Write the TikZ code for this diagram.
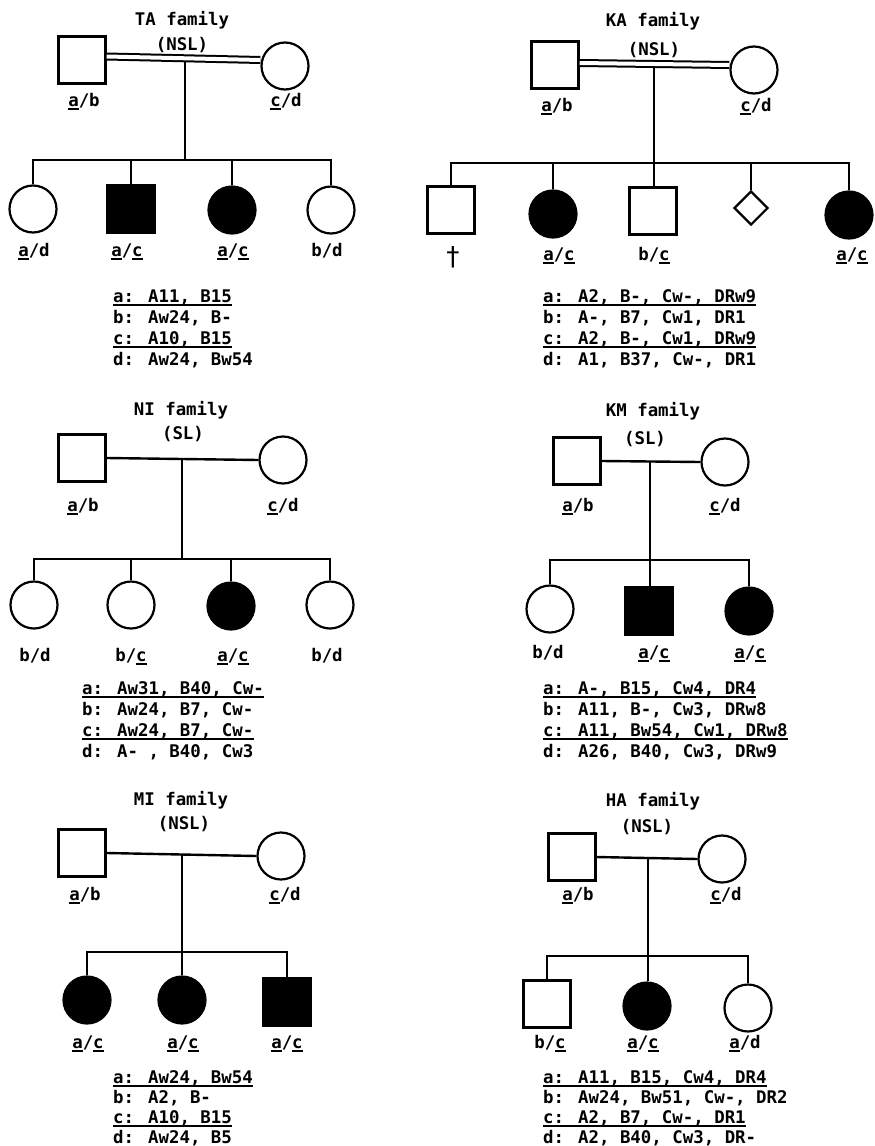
\documentclass[tikz,border=0pt]{standalone}
\usepackage{fontspec}
\newfontfamily\typew{DejaVu Sans Mono Bold}
\newfontfamily\typewlight{DejaVu Sans Mono}
\usetikzlibrary{shapes.geometric}
% underlined haplotype letter (shared haplotype)
\newcommand\hapul[1]{\setbox0=\hbox{#1}\rlap{\vrule width\wd0 height -2pt depth 3.6pt}\box0}
\newcommand\ua{\hapul{a}}
\newcommand\uc{\hapul{c}}

\begin{document}
\begin{tikzpicture}[x=1pt,y=-1pt,
  txt/.style={font=\typew\fontsize{17.4}{21}\selectfont, inner sep=0pt, anchor=base},
  row/.style={txt, anchor=base west},
  male/.style={draw, line width=2.4pt, rectangle, minimum size=47pt, inner sep=0pt},
  female/.style={draw, line width=2.2pt, circle, minimum size=47pt, inner sep=0pt},
  unknown/.style={draw, line width=2.2pt, diamond, minimum width=34pt, minimum height=34pt, aspect=1, inner sep=0pt},
  affected/.style={fill=black},
  rel/.style={line width=2.4pt},
  sib/.style={line width=2.8pt},
  consang/.style={line width=2pt, double, double distance=4pt},
  hapline/.style={line width=1.8pt}
]
\fill[white] (0,0) rectangle (875,1146);
\useasboundingbox (0,0) rectangle (875,1146);

%% ---------------- TA family ----------------
\node[txt] (ta-t) at (182,25) {TA family};
\node[txt] (ta-n) at (182,50) {(NSL)};
\node[male] (ta-f) at (82,60) {};
\node[female] (ta-m) at (285,66) {};
\node[txt] (ta-fl) at (84,106) {\ua/b};
\node[txt] (ta-ml) at (286,106) {\uc/d};
\draw[consang] ([yshift=3.5pt]ta-f.east) -- ([yshift=6pt]ta-m.west);
\coordinate (ta-j) at (185,62);
\coordinate (ta-s) at (185,160);
\draw[rel] (ta-j) -- (ta-s);
\node[female] (ta-c1) at (33,209) {};
\node[male, affected] (ta-c2) at (131,209) {};
\node[female, affected] (ta-c3) at (232,210) {};
\node[female] (ta-c4) at (331,210) {};
\draw[sib] (ta-c1.north) -- (ta-c1.north |- ta-s) -- (ta-c4.north |- ta-s) -- (ta-c4.north);
\draw[sib] (ta-c2.north) -- (ta-c2.north |- ta-s);
\draw[sib] (ta-c3.north) -- (ta-c3.north |- ta-s);
\node[txt] (ta-c1l) at (34,256) {\ua/d};
\node[txt] (ta-c2l) at (127,256) {\ua/\uc};
\node[txt] (ta-c3l) at (233,256) {\ua/\uc};
\node[txt] (ta-c4l) at (327,256) {b/d};
\node[row] (ta-ha) at (113,302) {a: A11, B15};
\node[row] (ta-hb) at (113,323) {b: Aw24, B-};
\node[row] (ta-hc) at (113,344) {c: A10, B15};
\node[row] (ta-hd) at (113,365) {d: Aw24, Bw54};
\draw[hapline] ([yshift=-2.8pt]ta-ha.base west) -- ([yshift=-2.8pt]ta-ha.base east);
\draw[hapline] ([yshift=-2.8pt]ta-hc.base west) -- ([yshift=-2.8pt]ta-hc.base east);

%% ---------------- KA family ----------------
\node[txt] (ka-t) at (653,26) {KA family};
\node[txt] (ka-n) at (654,55) {(NSL)};
\node[male] (ka-f) at (555,65) {};
\node[female] (ka-m) at (754,70) {};
\node[txt] (ka-fl) at (557,111) {\ua/b};
\node[txt] (ka-ml) at (756,111) {\uc/d};
\draw[consang] ([yshift=2pt]ka-f.east) -- ([yshift=5pt]ka-m.west);
\coordinate (ka-j) at (654,68);
\coordinate (ka-s) at (654,163);
\node[male] (ka-c1) at (451,210) {};
\node[female, affected] (ka-c2) at (553,214) {};
\node[male] (ka-c3) at (653,211) {};
\node[unknown] (ka-c4) at (751,208) {};
\node[female, affected] (ka-c5) at (849,215) {};
\draw[rel] (ka-j) -- (ka-j |- ka-c3.north);
\draw[sib] (ka-c1.north) -- (ka-c1.north |- ka-s) -- (ka-c5.north |- ka-s) -- (ka-c5.north);
\draw[sib] (ka-c2.north) -- (ka-c2.north |- ka-s);
\draw[sib] (ka-c4.north) -- (ka-c4.north |- ka-s);
\node[txt, anchor=center, font=\typewlight\fontsize{26}{26}\selectfont] (ka-c1l) at (453,257) {†};
\node[txt] (ka-c2l) at (559,260) {\ua/\uc};
\node[txt] (ka-c3l) at (654,260) {b/\uc};
\node[txt] (ka-c5l) at (852,260) {\ua/\uc};
\node[row] (ka-ha) at (543,302) {a: A2, B-, Cw-, DRw9};
\node[row] (ka-hb) at (543,323) {b: A-, B7, Cw1, DR1};
\node[row] (ka-hc) at (543,344) {c: A2, B-, Cw1, DRw9};
\node[row] (ka-hd) at (543,365) {d: A1, B37, Cw-, DR1};
\draw[hapline] ([yshift=-2.8pt]ka-ha.base west) -- ([yshift=-2.8pt]ka-ha.base east);
\draw[hapline] ([yshift=-2.8pt]ka-hc.base west) -- ([yshift=-2.8pt]ka-hc.base east);

%% ---------------- NI family ----------------
\node[txt] (ni-t) at (181,415) {NI family};
\node[txt] (ni-n) at (183,439) {(SL)};
\node[male] (ni-f) at (82,458) {};
\node[female] (ni-m) at (283,460) {};
\node[txt] (ni-fl) at (83,511) {\ua/b};
\node[txt] (ni-ml) at (283,511) {\uc/d};
\draw[rel] (ni-f.east) -- (ni-m.west);
\coordinate (ni-j) at (182,459);
\coordinate (ni-s) at (182,559);
\draw[rel] (ni-j) -- (ni-s);
\node[female] (ni-c1) at (34,605) {};
\node[female] (ni-c2) at (131,605) {};
\node[female, affected] (ni-c3) at (231,606) {};
\node[female] (ni-c4) at (330,605) {};
\draw[sib] (ni-c1.north) -- (ni-c1.north |- ni-s) -- (ni-c4.north |- ni-s) -- (ni-c4.north);
\draw[sib] (ni-c2.north) -- (ni-c2.north |- ni-s);
\draw[sib] (ni-c3.north) -- (ni-c3.north |- ni-s);
\node[txt] (ni-c1l) at (35,661) {b/d};
\node[txt] (ni-c2l) at (131,661) {b/\uc};
\node[txt] (ni-c3l) at (233,661) {\ua/\uc};
\node[txt] (ni-c4l) at (327,661) {b/d};
\node[row] (ni-ha) at (82,694) {a: Aw31, B40, Cw-};
\node[row] (ni-hb) at (82,715) {b: Aw24, B7, Cw-};
\node[row] (ni-hc) at (82,736) {c: Aw24, B7, Cw-};
\node[row] (ni-hd) at (82,757) {d: A- , B40, Cw3};
\draw[hapline] ([yshift=-2.8pt]ni-ha.base west) -- ([yshift=-2.8pt]ni-ha.base east);
\draw[hapline] ([yshift=-2.8pt]ni-hc.base west) -- ([yshift=-2.8pt]ni-hc.base east);

%% ---------------- KM family ----------------
\node[txt] (km-t) at (653,416) {KM family};
\node[txt] (km-n) at (645,444) {(SL)};
\node[male] (km-f) at (577,461) {};
\node[female] (km-m) at (725,462) {};
\node[txt] (km-fl) at (578,511) {\ua/b};
\node[txt] (km-ml) at (725,511) {\uc/d};
\draw[rel] (km-f.east) -- (km-m.west);
\coordinate (km-j) at (650,461);
\coordinate (km-s) at (650,560);
\node[female] (km-c1) at (550,609) {};
\node[male, affected] (km-c2) at (649,611) {};
\node[female, affected] (km-c3) at (749,611) {};
\draw[rel] (km-j) -- (km-j |- km-c2.north);
\draw[sib] (km-c1.north) -- (km-c1.north |- km-s) -- (km-c3.north |- km-s) -- (km-c3.north);
\node[txt] (km-c1l) at (548,658) {b/d};
\node[txt] (km-c2l) at (654,658) {\ua/\uc};
\node[txt] (km-c3l) at (750,658) {\ua/\uc};
\node[row] (km-ha) at (543,694) {a: A-, B15, Cw4, DR4};
\node[row] (km-hb) at (543,715) {b: A11, B-, Cw3, DRw8};
\node[row] (km-hc) at (543,736) {c: A11, Bw54, Cw1, DRw8};
\node[row] (km-hd) at (543,757) {d: A26, B40, Cw3, DRw9};
\draw[hapline] ([yshift=-2.8pt]km-ha.base west) -- ([yshift=-2.8pt]km-ha.base east);
\draw[hapline] ([yshift=-2.8pt]km-hc.base west) -- ([yshift=-2.8pt]km-hc.base east);

%% ---------------- MI family ----------------
\node[txt] (mi-t) at (181,805) {MI family};
\node[txt] (mi-n) at (184,829) {(NSL)};
\node[male] (mi-f) at (82,853) {};
\node[female] (mi-m) at (281,856) {};
\node[txt] (mi-fl) at (85,900) {\ua/b};
\node[txt] (mi-ml) at (285,900) {\uc/d};
\draw[rel] (mi-f.east) -- (mi-m.west);
\coordinate (mi-j) at (182,854);
\coordinate (mi-s) at (182,952);
\node[female, affected] (mi-c1) at (87,1000) {};
\node[female, affected] (mi-c2) at (182,1000) {};
\node[male, affected] (mi-c3) at (287,1002) {};
\draw[rel] (mi-j) -- (mi-j |- mi-c2.north);
\draw[sib] (mi-c1.north) -- (mi-c1.north |- mi-s) -- (mi-c3.north |- mi-s) -- (mi-c3.north);
\node[txt] (mi-c1l) at (88,1048) {\ua/\uc};
\node[txt] (mi-c2l) at (183,1048) {\ua/\uc};
\node[txt] (mi-c3l) at (287,1048) {\ua/\uc};
\node[row] (mi-ha) at (113,1083) {a: Aw24, Bw54};
\node[row] (mi-hb) at (113,1103) {b: A2, B-};
\node[row] (mi-hc) at (113,1123) {c: A10, B15};
\node[row] (mi-hd) at (113,1143) {d: Aw24, B5};
\draw[hapline] ([yshift=-2.8pt]mi-ha.base west) -- ([yshift=-2.8pt]mi-ha.base east);
\draw[hapline] ([yshift=-2.8pt]mi-hc.base west) -- ([yshift=-2.8pt]mi-hc.base east);

%% ---------------- HA family ----------------
\node[txt] (ha-t) at (653,806) {HA family};
\node[txt] (ha-n) at (647,832) {(NSL)};
\node[male] (ha-f) at (572,857) {};
\node[female] (ha-m) at (722,859) {};
\node[txt] (ha-fl) at (578,900) {\ua/b};
\node[txt] (ha-ml) at (726,900) {\uc/d};
\draw[rel] (ha-f.east) -- (ha-m.west);
\coordinate (ha-j) at (648,858);
\coordinate (ha-s) at (648,956);
\node[male] (ha-c1) at (547,1004) {};
\node[female, affected] (ha-c2) at (647,1006) {};
\node[female] (ha-c3) at (748,1008) {};
\draw[rel] (ha-j) -- (ha-j |- ha-c2.north);
\draw[sib] (ha-c1.north) -- (ha-c1.north |- ha-s) -- (ha-c3.north |- ha-s) -- (ha-c3.north);
\node[txt] (ha-c1l) at (550,1048) {b/\uc};
\node[txt] (ha-c2l) at (643,1048) {\ua/\uc};
\node[txt] (ha-c3l) at (745,1048) {\ua/d};
\node[row] (ha-ha) at (543,1083) {a: A11, B15, Cw4, DR4};
\node[row] (ha-hb) at (543,1103) {b: Aw24, Bw51, Cw-, DR2};
\node[row] (ha-hc) at (543,1123) {c: A2, B7, Cw-, DR1};
\node[row] (ha-hd) at (543,1143) {d: A2, B40, Cw3, DR-};
\draw[hapline] ([yshift=-2.8pt]ha-ha.base west) -- ([yshift=-2.8pt]ha-ha.base east);
\draw[hapline] ([yshift=-2.8pt]ha-hc.base west) -- ([yshift=-2.8pt]ha-hc.base east);
\end{tikzpicture}
\end{document}
